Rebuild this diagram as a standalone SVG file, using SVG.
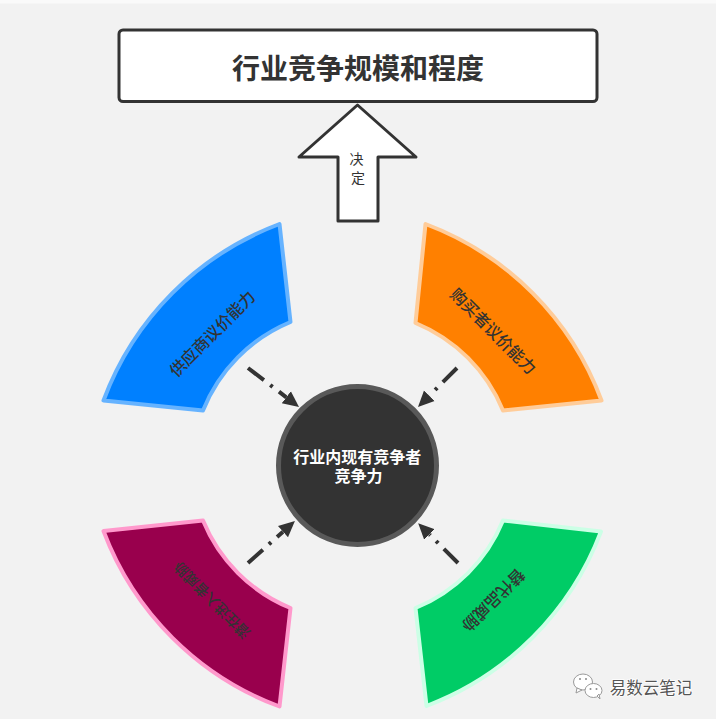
<svg xmlns="http://www.w3.org/2000/svg" width="716" height="719" viewBox="0 0 716 719">
  <style>
    text { font-family: "Noto Sans CJK SC", "Liberation Sans", sans-serif; text-anchor: middle; }
    .wedge { stroke-width: 4; stroke-linejoin: round; }
    .wedge-label { font-size: 16.200px; font-weight: 500; fill: #333333; dominant-baseline: central; }
    .flow { fill: none; stroke: #333333; stroke-width: 4; stroke-dasharray: 20 8 3 8; marker-end: url(#head); }
    .bubble { fill: #ffffff; stroke: #9a9a9a; stroke-width: 1; }
    .eye { fill: #8a8a8a; }
  </style>
  <defs>
    <marker id="head" markerUnits="userSpaceOnUse" markerWidth="18" markerHeight="18" refX="0" refY="9" orient="auto">
      <path d="M0,1.5 L16,9 L0,16.5 Z" fill="#333333"/>
    </marker>
  </defs>

  <rect x="0" y="0" width="716" height="719" fill="#f2f2f2"/>
  <rect x="0" y="0" width="716" height="3.5" fill="#fafafa"/>

  <g id="connectors">
    <line class="flow" x1="248" y1="368" x2="286.3" y2="397.3"/>
    <line class="flow" x1="457" y1="368" x2="429.3" y2="395.7"/>
    <line class="flow" x1="248" y1="563" x2="283" y2="531.7"/>
    <line class="flow" x1="458" y1="563" x2="429.5" y2="534.5"/>
  </g>

  <g id="title">
    <rect x="119" y="30" width="478" height="71.5" rx="4" fill="#ffffff" stroke="#333333" stroke-width="3"/>
    <text x="358" y="67" font-size="28" font-weight="700" fill="#333333" dominant-baseline="central">行业竞争规模和程度</text>
  </g>

  <g id="decides-arrow">
    <path d="M357.5,105 L416,157 L378,157 L378,221 L338,221 L338,157 L299,157 Z" fill="#ffffff" stroke="#333333" stroke-width="3" stroke-linejoin="round"/>
    <text font-size="14" fill="#333333">
      <tspan x="358" y="164">决</tspan>
      <tspan x="358" y="183">定</tspan>
    </text>
  </g>

  <g id="supplier">
    <path class="wedge" d="M279.5,224 A300,300 0 0 0 103.5,400.5 L203,410.5 A160,160 0 0 1 290.5,322 Z" fill="#0080ff" stroke="#66b3ff"/>
    <text class="wedge-label" transform="translate(211.500,333) rotate(-45)">供应商议价能力</text>
  </g>

  <g id="buyer">
    <path class="wedge" d="M425.500,224 A300,300 0 0 1 601.500,400.500 L503,410.500 A160,160 0 0 0 415.500,323 Z" fill="#ff8000" stroke="#ffcc99"/>
    <text class="wedge-label" transform="translate(494,330.500) rotate(45)">购买者议价能力</text>
  </g>

  <g id="entrant">
    <path class="wedge" d="M279.500,706.500 A300,300 0 0 1 103.500,531 L203,520.500 A160,160 0 0 0 290.500,608 Z" fill="#99004d" stroke="#ff99cc"/>
    <text class="wedge-label" style="font-size:14.500px" transform="translate(211,601) rotate(-135)">潜在进入者威胁</text>
  </g>

  <g id="substitute">
    <path class="wedge" d="M426.500,706 A300,300 0 0 0 601,531.500 L503,520.500 A160,160 0 0 1 415.500,608 Z" fill="#00cc66" stroke="#ccffe6"/>
    <text class="wedge-label" transform="translate(494,601) rotate(135)">替代品威胁</text>
  </g>

  <g id="rivalry">
    <circle cx="357.500" cy="465.500" r="79" fill="#333333" stroke="#595959" stroke-width="5"/>
    <text font-size="16" font-weight="700" fill="#ffffff">
      <tspan x="359" y="462.500">行业内现有竞争者</tspan>
      <tspan x="358.500" y="482">竞争力</tspan>
    </text>
  </g>

  <g id="account-mark">
    <ellipse class="bubble" cx="583" cy="682" rx="9.500" ry="8"/>
    <path class="bubble" d="M577,688 L576,693 L582,690 Z"/>
    <ellipse class="bubble" cx="593.500" cy="690.500" rx="8.500" ry="7"/>
    <path class="bubble" d="M597,696 L600,699 L599,694 Z"/>
    <circle class="eye" cx="580" cy="679" r="1"/>
    <circle class="eye" cx="586" cy="679" r="1"/>
    <circle class="eye" cx="590.500" cy="689" r="1"/>
    <circle class="eye" cx="596.500" cy="689" r="1"/>
    <text x="651" y="687" font-size="16.500" fill="#555555" stroke="#ffffff" stroke-width="1.500" paint-order="stroke" dominant-baseline="central">易数云笔记</text>
  </g>
</svg>
